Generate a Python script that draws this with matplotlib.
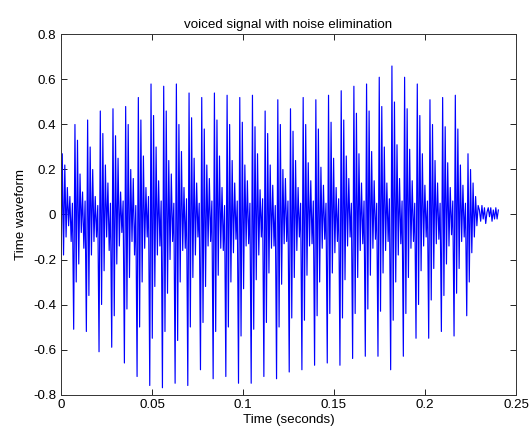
#! /usr/bin/env python3

import matplotlib
matplotlib.use("Agg")
import matplotlib.pyplot as plt
import numpy as np

# turning points of the voiced part, one row per pitch period:
# main trough, main peak, then the decaying ripples
wave = [
    -0.28, 0.27, -0.18, 0.22, -0.10, 0.12, -0.05, 0.08, -0.12, 0.05,
    -0.51, 0.40, -0.30, 0.33, -0.22, 0.18, -0.08, 0.10, -0.15, 0.06,
    -0.52, 0.42, -0.36, 0.30, -0.18, 0.20, -0.12, 0.08, -0.10, 0.04,
    -0.61, 0.46, -0.40, 0.36, -0.25, 0.22, -0.10, 0.14, -0.16, 0.05,
    -0.59, 0.47, -0.45, 0.35, -0.22, 0.25, -0.14, 0.10, -0.08, 0.06,
    -0.66, 0.48, -0.42, 0.40, -0.28, 0.20, -0.12, 0.16, -0.18, 0.04,
    -0.72, 0.52, -0.50, 0.42, -0.30, 0.26, -0.15, 0.12, -0.10, 0.08,
    -0.76, 0.58, -0.55, 0.44, -0.32, 0.30, -0.18, 0.15, -0.14, 0.06,
    -0.77, 0.57, -0.52, 0.46, -0.35, 0.24, -0.20, 0.18, -0.12, 0.05,
    -0.75, 0.58, -0.56, 0.40, -0.30, 0.28, -0.16, 0.12, -0.15, 0.07,
    -0.76, 0.54, -0.50, 0.43, -0.28, 0.25, -0.18, 0.14, -0.10, 0.05,
    -0.69, 0.52, -0.48, 0.38, -0.32, 0.22, -0.14, 0.16, -0.12, 0.06,
    -0.73, 0.54, -0.52, 0.42, -0.27, 0.26, -0.15, 0.12, -0.16, 0.04,
    -0.72, 0.53, -0.50, 0.40, -0.30, 0.24, -0.17, 0.14, -0.11, 0.06,
    -0.75, 0.52, -0.54, 0.41, -0.33, 0.22, -0.14, 0.15, -0.13, 0.05,
    -0.75, 0.53, -0.51, 0.39, -0.29, 0.27, -0.18, 0.11, -0.10, 0.07,
    -0.72, 0.46, -0.48, 0.36, -0.26, 0.22, -0.15, 0.13, -0.14, 0.04,
    -0.73, 0.51, -0.50, 0.40, -0.31, 0.20, -0.13, 0.16, -0.12, 0.06,
    -0.70, 0.47, -0.46, 0.37, -0.28, 0.24, -0.16, 0.12, -0.10, 0.05,
    -0.69, 0.52, -0.47, 0.40, -0.27, 0.23, -0.14, 0.15, -0.13, 0.06,
    -0.67, 0.51, -0.45, 0.38, -0.30, 0.21, -0.15, 0.13, -0.11, 0.05,
    -0.66, 0.53, -0.44, 0.41, -0.26, 0.25, -0.17, 0.12, -0.12, 0.07,
    -0.67, 0.55, -0.46, 0.42, -0.29, 0.26, -0.14, 0.16, -0.10, 0.05,
    -0.64, 0.57, -0.44, 0.45, -0.28, 0.27, -0.16, 0.14, -0.13, 0.06,
    -0.63, 0.58, -0.42, 0.46, -0.27, 0.28, -0.15, 0.15, -0.11, 0.05,
    -0.63, 0.61, -0.43, 0.48, -0.26, 0.30, -0.16, 0.14, -0.12, 0.07,
    -0.69, 0.66, -0.47, 0.50, -0.30, 0.31, -0.18, 0.16, -0.13, 0.06,
    -0.63, 0.61, -0.44, 0.47, -0.28, 0.29, -0.15, 0.15, -0.12, 0.05,
    -0.55, 0.58, -0.40, 0.44, -0.25, 0.27, -0.14, 0.13, -0.10, 0.06,
    -0.55, 0.51, -0.38, 0.40, -0.24, 0.24, -0.13, 0.14, -0.11, 0.05,
    -0.52, 0.52, -0.36, 0.39, -0.22, 0.23, -0.14, 0.12, -0.09, 0.06,
    -0.54, 0.53, -0.35, 0.38, -0.24, 0.22, -0.12, 0.13, -0.10, 0.05,
    -0.45, 0.27, -0.30, 0.20, -0.17, 0.14, -0.10, 0.08, -0.05, 0.04,
]

# small residue after the voiced part
tail = [0.02, -0.03, 0.04, -0.02, 0.03, -0.04, 0.01, 0.03,
        -0.01, 0.03, -0.03, 0.02, -0.02, 0.03, -0.02, 0.02]

t_voiced_end = 0.2292
t_end = 0.2403

x_ticks = [0, 0.05, 0.1, 0.15, 0.2, 0.25]
x_labels = ["0", "0.05", "0.1", "0.15", "0.2", "0.25"]
y_ticks = [-0.8, -0.6, -0.4, -0.2, 0, 0.2, 0.4, 0.6, 0.8]
y_labels = ["-0.8", "-0.6", "-0.4", "-0.2", "0", "0.2", "0.4", "0.6", "0.8"]


def main():
    plt.rcParams["font.family"] = ["Liberation Sans", "DejaVu Sans"]
    fs = 9.6

    t1 = np.linspace(0, t_voiced_end, len(wave))
    t2 = np.linspace(t_voiced_end, t_end, len(tail) + 1)[1:]
    t = np.concatenate([t1, t2])
    y = np.concatenate([wave, tail])

    fig = plt.figure(figsize=(5.3, 4.33), dpi=100)
    ax = fig.add_axes([61 / 530, 1 - 394.5 / 433, 455 / 530, 360 / 433])
    ax.plot(t, y, color="#0000ff", linewidth=0.85)

    ax.set_xlim(0, 0.25)
    ax.set_ylim(-0.8, 0.8)
    ax.set_xticks(x_ticks)
    ax.set_xticklabels(x_labels)
    ax.set_yticks(y_ticks)
    ax.set_yticklabels(y_labels)
    ax.tick_params(direction="in", length=4, width=0.6, top=True, right=True,
                   labelsize=fs, colors="black")
    for s in ax.spines.values():
        s.set_linewidth(0.7)
        s.set_color("#333333")

    ax.set_title("voiced signal with noise elimination", fontsize=fs, pad=5)
    ax.set_xlabel("Time (seconds)", fontsize=fs, labelpad=2)
    ax.set_ylabel("Time waveform", fontsize=fs, labelpad=4)

    fig.savefig("out.png", dpi=100)


if __name__ == "__main__":
    main()
